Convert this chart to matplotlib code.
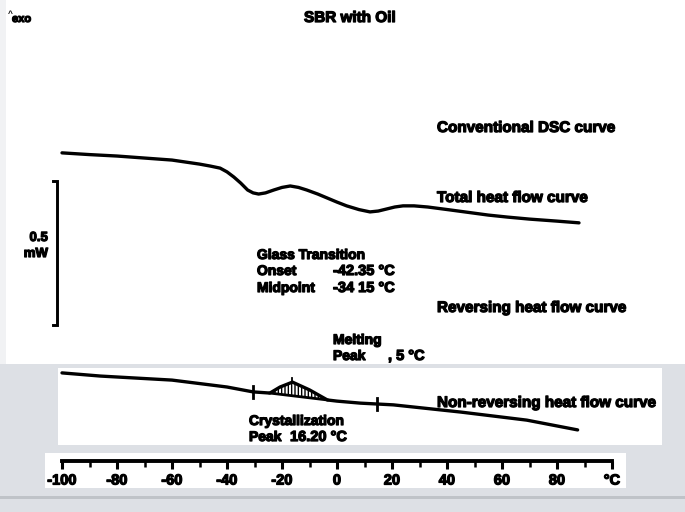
import matplotlib
matplotlib.use("Agg")
import matplotlib.pyplot as plt
import matplotlib.patheffects as pe
from matplotlib.patches import Rectangle

plt.rcParams['font.family'] = ['Liberation Sans', 'DejaVu Sans']
plt.rcParams['font.weight'] = 'bold'

# Temperature (°C) and heat flow (mW, arbitrary offset) of the total heat flow curve
total_temp = [-100, -90, -80, -70, -60, -55, -50, -46, -42.5, -40, -37.5, -35,
              -32.5, -30.5, -28.5, -26, -23, -20, -17, -14, -11, -7, -3.5, 0,
              3.5, 8, 12, 15, 18, 21, 24, 28, 33, 41, 48, 55, 62, 70, 80, 88]
total_hf = [1.247, 1.241, 1.236, 1.229, 1.222, 1.215, 1.208, 1.201, 1.194, 1.181,
            1.163, 1.142, 1.118, 1.108, 1.104, 1.108, 1.118, 1.127, 1.132, 1.127,
            1.118, 1.104, 1.090, 1.076, 1.063, 1.050, 1.042, 1.045, 1.052, 1.059,
            1.063, 1.063, 1.059, 1.049, 1.040, 1.031, 1.024, 1.017, 1.010, 1.004]

# Non-reversing heat flow curve
nonrev_temp = [-100, -86, -60, -40, -30.5, -24.4, -20.7, -16.2, -10, -3.5, 0,
               8.5, 14.5, 20.5, 45, 69, 87.5]
nonrev_hf = [0.483, 0.472, 0.458, 0.434, 0.417, 0.413, 0.434, 0.451, 0.424, 0.389,
             0.385, 0.378, 0.375, 0.372, 0.347, 0.319, 0.285]

# Crystallization integration limits, baseline and peak
cryst_limits = [-30.5, 14.5]
cryst_base_temp = [-24.4, -3.5]
cryst_base_hf = [0.413, 0.389]
cryst_peak = -16.2

# Scale bar (mW)
scale_top = 1.149
scale_len = 0.5

# Temperature axis
tick_major = [-100, -80, -60, -40, -20, 0, 20, 40, 60, 80, 100]
tick_labels = ['-100', '-80', '-60', '-40', '-20', '0', '20', '40', '60', '80', '°C']

W, H = 685, 512
fig = plt.figure(figsize=(W / 100, H / 100), dpi=100)
fig.patch.set_facecolor('white')

heavy = [pe.withStroke(linewidth=0.9, foreground='black')]


def fx(x):
    return x / W


def fy(y):
    return 1 - y / H


def band(x0, y0, x1, y1, color):
    fig.patches.append(Rectangle((fx(x0), fy(y1)), (x1 - x0) / W, (y1 - y0) / H,
                                 transform=fig.transFigure, facecolor=color,
                                 edgecolor='none', zorder=-5))


gray = '#dde0e5'
band(0, 364, W, H, gray)
band(58, 368, 662, 445, 'white')
band(45, 453, 626, 488, 'white')
band(0, 496, W, 498.5, '#bfc3c8')
band(0, 0, 6, 364, '#f1f2f4')

# main drawing axes spanning the figure: x in °C, y in mW
ax = fig.add_axes([0, 0, 1, 1], zorder=2)
ax.set_xlim(-100 - 62 / 2.75, -100 + (W - 62) / 2.75)
ax.set_ylim(0, H / 288)
ax.axis('off')
ax.patch.set_alpha(0)

lw = 2.4
ax.plot(total_temp, total_hf, color='black', lw=lw, solid_capstyle='round',
        solid_joinstyle='round')
ax.plot(nonrev_temp, nonrev_hf, color='black', lw=lw, solid_capstyle='round',
        solid_joinstyle='round')

# crystallization peak area
seg = [(t, h) for t, h in zip(nonrev_temp, nonrev_hf)
       if cryst_base_temp[0] <= t <= cryst_base_temp[1]]
seg_t = [p[0] for p in seg]
seg_h = [p[1] for p in seg]
slope = (cryst_base_hf[1] - cryst_base_hf[0]) / (cryst_base_temp[1] - cryst_base_temp[0])
base = [cryst_base_hf[0] + slope * (t - cryst_base_temp[0]) for t in seg_t]
ax.fill_between(seg_t, base, seg_h, facecolor='white', edgecolor='black',
                hatch='|||||', linewidth=0)
ax.plot(cryst_base_temp, cryst_base_hf, color='black', lw=2.0)


def on_curve(t):
    for i in range(len(nonrev_temp) - 1):
        if nonrev_temp[i] <= t <= nonrev_temp[i + 1]:
            f = (t - nonrev_temp[i]) / (nonrev_temp[i + 1] - nonrev_temp[i])
            return nonrev_hf[i] + f * (nonrev_hf[i + 1] - nonrev_hf[i])
    return nonrev_hf[-1]


# integration limit marks
for t in cryst_limits:
    h = on_curve(t)
    ax.plot([t, t], [h - 0.02, h + 0.02], color='black', lw=2.0)
pk = on_curve(cryst_peak)
ax.plot([cryst_peak, cryst_peak], [pk, pk + 0.015], color='black', lw=1.3)

# 0.5 mW scale bar
xb = -100 - 5 / 2.75
hook = 1.6
ax.plot([xb - hook, xb, xb, xb - hook],
        [scale_top, scale_top, scale_top - scale_len, scale_top - scale_len],
        color='black', lw=2.1, solid_joinstyle='miter')

# temperature axis
tax = fig.add_axes([fx(62), fy(461), fx(612 - 62), 0.0001], zorder=2)
tax.set_xlim(-100, 100)
tax.set_yticks([])
for s in ['top', 'left', 'right']:
    tax.spines[s].set_visible(False)
tax.spines['bottom'].set_linewidth(2.8)
tax.set_xticks(tick_major)
tax.set_xticklabels(tick_labels)
tax.set_xticks(list(range(-90, 100, 20)), minor=True)
tax.tick_params(axis='x', which='major', direction='out', length=6, width=2.2,
                labelsize=10.5, pad=3)
tax.tick_params(axis='x', which='minor', direction='out', length=4, width=1.8)
for lab in tax.get_xticklabels():
    lab.set_fontweight('bold')
    lab.set_path_effects(heavy)
tax.patch.set_alpha(0)

fs = 11


def put(x, y, s, size=fs, ha='left'):
    fig.text(fx(x), fy(y), s, fontsize=size, fontweight='bold', ha=ha, va='center',
             zorder=3, path_effects=heavy)


fig.text(fx(8), fy(14), '^', fontsize=6, fontweight='bold', ha='left', va='center')
put(12, 19, 'exo', size=8)
put(350, 18, 'SBR with Oil', size=11, ha='center')
put(437, 128, 'Conventional DSC curve')
put(437, 198, 'Total heat flow curve')
put(48, 238, '0.5', size=9.5, ha='right')
put(48, 254, 'mW', size=9.5, ha='right')
put(257, 255, 'Glass Transition', size=10)
put(257, 271, 'Onset', size=10)
put(333, 271, '-42.35 °C', size=10.5)
put(257, 288, 'Midpoint', size=10)
put(333, 288, '-34 15 °C', size=10.5)
put(437, 308, 'Reversing heat flow curve')
put(333, 340, 'Melting', size=10)
put(333, 356, 'Peak', size=10)
put(388, 356, ', 5 °C', size=10.5)
put(437, 403, 'Non-reversing heat flow curve')
put(249, 421, 'Crystallization', size=10)
put(249, 437, 'Peak', size=10)
put(290, 437, '16.20 °C', size=10.5)

fig.savefig('out.png', dpi=100)
